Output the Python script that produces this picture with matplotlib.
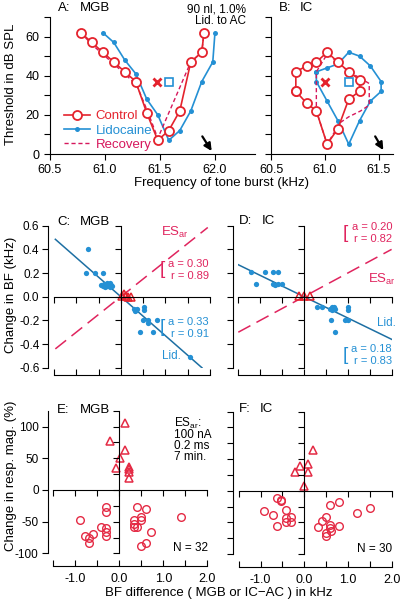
import numpy as np
import matplotlib
matplotlib.use('Agg')
import matplotlib.pyplot as plt
from matplotlib.ticker import MultipleLocator, FuncFormatter

plt.rcParams['font.family'] = ['Liberation Sans', 'DejaVu Sans']
plt.rcParams['axes.unicode_minus'] = False
plt.rcParams['mathtext.default'] = 'regular'
plt.rcParams['font.size'] = 8.5

# ---- A: MGB tuning curves (kHz, dB SPL)
ctrl_a_freq = [60.78, 60.88, 60.98, 61.08, 61.18, 61.28, 61.38, 61.48, 61.58, 61.68, 61.78, 61.88, 61.90]
ctrl_a_thr = [62, 57, 52, 47, 42, 37, 21, 7, 12, 22, 47, 52, 62]
lid_a_freq = [60.98, 61.08, 61.18, 61.28, 61.38, 61.48, 61.58, 61.68, 61.78, 61.88, 61.98, 62.00]
lid_a_thr = [62, 57, 48, 41, 28, 20, 7, 12, 22, 37, 47, 62]
rec_a_freq = [60.78, 60.88, 60.98, 61.08, 61.18, 61.29, 61.40, 61.48, 61.78, 61.88, 61.90]
rec_a_thr = [62, 56, 51, 46, 41, 35, 20, 8, 47, 52, 62]
bf_a_freq = [61.47, 61.58]      # control BF (x), lidocaine BF (square)
bf_a_thr = 37
ac_bf_a = 61.97

# ---- B: IC tuning curves
ctrl_b_freq = [60.73, 60.73, 60.83, 60.92, 61.02, 61.12, 61.22, 61.32, 61.32, 61.22, 61.12, 61.02, 60.92, 60.83, 60.73]
ctrl_b_thr = [32, 42, 45, 47, 52, 47, 42, 38, 32, 28, 13, 5, 22, 26, 32]
lid_b_freq = [60.92, 61.02, 61.12, 61.22, 61.32, 61.42, 61.52, 61.52, 61.42, 61.32, 61.22, 61.12, 61.02, 60.92, 60.92]
lid_b_thr = [42, 44, 46, 52, 50, 45, 37, 32, 27, 17, 5, 17, 27, 37, 42]
rec_b_freq = [61.32, 61.41, 61.41, 61.33, 61.22, 61.14, 61.02, 60.92, 60.92, 60.92, 61.02, 61.12, 61.22, 61.32]
rec_b_thr = [39, 36, 25, 22, 19, 16, 5, 22, 32, 42, 51, 47, 42, 39]
bf_b_freq = [61.00, 61.22]
bf_b_thr = 37
ac_bf_b = 61.54

# ---- C: MGB, change in BF vs BF difference
c_lid_x = [-0.73, -0.78, -0.58, -0.39, -0.45, -0.40, -0.38, -0.35, -0.33, -0.30, -0.28, -0.25,
           -0.22, -0.20, -0.30, -0.25, 0.30, 0.34, 0.32, 0.36, 0.51, 0.51, 0.49, 0.62, 0.62,
           0.81, 0.42, 0.72, 1.55]
c_lid_y = [0.40, 0.20, 0.20, 0.20, 0.10, 0.09, 0.11, 0.08, 0.10, 0.09, 0.11, 0.08,
           0.10, 0.09, 0.12, 0.12, -0.10, -0.11, -0.12, -0.10, -0.085, -0.11, -0.20, -0.20, -0.22,
           -0.20, -0.30, -0.30, -0.51]
c_es_x = [0.02, 0.08, 0.12, 0.17, 0.22]
c_es_y = [0.01, 0.02, 0.005, 0.0, 0.0]
c_lid_a, c_lid_r = 0.33, 0.91
c_es_a, c_es_r = 0.30, 0.89

# ---- D: IC
d_lid_x = [-1.20, -1.10, -0.90, -0.71, -0.59, -0.71, -0.67, -0.59, -0.50, 0.30, 0.40, 0.63,
           0.60, 0.68, 0.63, 0.70, 1.00, 1.00, 0.61, 0.93, 1.00, 0.70]
d_lid_y = [0.21, 0.11, 0.21, 0.21, 0.21, 0.11, 0.10, 0.11, 0.11, -0.09, -0.09, -0.085,
           -0.10, -0.09, -0.11, -0.10, -0.09, -0.11, -0.20, -0.20, -0.20, -0.30]
d_es_x = [-0.12, 0.0, 0.13]
d_es_y = [0.01, 0.01, 0.01]
d_lid_a, d_lid_r = 0.18, 0.83
d_es_a, d_es_r = 0.20, 0.82

# ---- E: MGB, change in response magnitude
e_tri_x = [0.12, -0.20, 0.12, 0.02, -0.08, 0.22, 0.22, 0.22, 0.22]
e_tri_y = [106, 78, 63, 51, 34, 37, 33, 28, 19]
e_circ_x = [-0.30, -0.30, -0.89, -0.41, -0.30, -0.30, -0.30, -0.79, -0.60, -0.69, -0.69, 0.41,
            0.60, 0.33, 0.33, 0.33, 0.41, 0.50, 0.50, 0.71, 0.50, 0.60, 1.41]
e_circ_y = [-27, -34, -48, -58, -60, -66, -73, -72, -69, -75, -83, -27,
            -30, -47, -53, -58, -58, -42, -48, -67, -88, -83, -42]

# ---- F: IC
f_tri_x = [0.19, -0.11, 0.08, 0.09, -0.21, 0.0]
f_tri_y = [64, 39, 42, 30, 30, 8]
f_circ_x = [-0.63, -0.53, -0.53, -0.91, -0.72, -0.42, -0.42, -0.42, -0.30, -0.30, -0.63, 0.59,
            0.79, 1.20, 1.50, 0.49, 0.40, 0.31, 0.59, 0.59, 0.79, 0.49, 0.49, 0.60]
f_circ_y = [-12, -14, -17, -32, -38, -30, -43, -49, -41, -50, -55, -23,
            -18, -35, -27, -42, -48, -58, -54, -59, -55, -66, -71, -63]

RED = '#e4232d'
BLUE = '#2490d4'
REC = '#d6175c'
ESRED = '#e0245e'
REGBLUE = '#1d6fa3'
PINK = '#e42a44'

W, H = 400, 606
fig = plt.figure(figsize=(W / 100, H / 100), dpi=100)


def box(l, t, r, b):
    return fig.add_axes([l / W, 1 - b / H, (r - l) / W, (b - t) / H])


def ftext(x, y, s, **kw):
    kw.setdefault('va', 'center')
    return fig.text(x / W, 1 - y / H, s, **kw)


def style_tuning(ax, xlim, ylabels):
    ax.set_xlim(*xlim)
    ax.set_ylim(0, 70)
    for s in ['top', 'right']:
        ax.spines[s].set_visible(False)
    for s in ['left', 'bottom']:
        ax.spines[s].set_linewidth(0.8)
    ax.xaxis.set_major_locator(MultipleLocator(0.5))
    ax.xaxis.set_major_formatter(FuncFormatter(lambda v, p: f'{v:.1f}'))
    ax.yaxis.set_major_locator(MultipleLocator(20 if ylabels else 10))
    ax.yaxis.set_minor_locator(MultipleLocator(10))
    ax.tick_params(which='both', direction='out', length=4, width=0.8, labelsize=9)
    ax.tick_params(axis='y', labelleft=ylabels)


def style_cross(ax, ylim, step_left, ylabels, step_zero, xlabels, bottom_out):
    ax.set_xlim(-1.5, 2.0)
    ax.set_ylim(*ylim)
    ax.spines['right'].set_visible(False)
    ax.spines['top'].set_position(('data', 0))
    ax.spines['left'].set_position(('outward', 4))
    ax.spines['bottom'].set_position(('outward', bottom_out))
    for s in ['left', 'bottom', 'top']:
        ax.spines[s].set_linewidth(0.8)
    ax.yaxis.set_major_locator(MultipleLocator(step_left))
    ax.yaxis.set_major_formatter(FuncFormatter(lambda v, p: f'{v:.1f}' if step_left < 1 else f'{v:.0f}'))
    ax.tick_params(axis='y', direction='out', length=4, width=0.8, labelsize=8.5, pad=2.5,
                   labelleft=ylabels)
    ax.xaxis.set_ticks_position('both')
    ax.xaxis.set_major_locator(MultipleLocator(0.5))
    ax.xaxis.set_major_formatter(FuncFormatter(
        lambda v, p: f'{v:.1f}' if xlabels and abs(v - round(v)) < 1e-6 else ''))
    ax.tick_params(axis='x', direction='in', length=4, width=0.8, labelsize=9,
                   labeltop=False, labelbottom=xlabels, pad=5)
    ax2 = ax.twinx()
    ax2.set_ylim(*ylim)
    for s in ['left', 'top', 'bottom']:
        ax2.spines[s].set_visible(False)
    ax2.spines['right'].set_position(('data', 0))
    ax2.spines['right'].set_linewidth(0.8)
    ax2.yaxis.set_major_locator(MultipleLocator(step_zero))
    ax2.tick_params(axis='y', direction='in', length=4, width=0.8, labelright=False)


# ---------------- A
axA = box(50, 17, 255, 154)
style_tuning(axA, (60.5, 62.364), True)
hl, = axA.plot(lid_a_freq, lid_a_thr, '-o', color=BLUE, ms=3.6, mew=0, lw=1.2, label='Lidocaine')
hr, = axA.plot(rec_a_freq, rec_a_thr, color=REC, lw=1.0, dashes=(3, 2), label='Recovery')
hc, = axA.plot(ctrl_a_freq, ctrl_a_thr, '-o', color=RED, mfc='white', mec=RED, ms=6.5, mew=1.3,
               lw=1.2, label='Control')
axA.plot(bf_a_freq[0], bf_a_thr, 'x', color=RED, ms=6, mew=2)
axA.plot(bf_a_freq[1], bf_a_thr, 's', mfc='none', mec=BLUE, ms=6, mew=1.2)
axA.annotate('', xy=(ac_bf_a, 1.5), xytext=(ac_bf_a - 0.085, 9),
             arrowprops=dict(arrowstyle='-|>', color='black', lw=1.6, mutation_scale=11,
                             shrinkA=0, shrinkB=0))
axA.legend(handles=[hc, hl, hr], loc='lower left', bbox_to_anchor=(0.03, -0.035), frameon=False,
           fontsize=9.5, handlelength=2.0, handletextpad=0.4, labelspacing=0.15,
           borderaxespad=0.2, labelcolor='linecolor')

# ---------------- B
axB = box(271, 17, 393, 154)
style_tuning(axB, (60.5, 61.63), False)
axB.plot(lid_b_freq, lid_b_thr, '-o', color=BLUE, ms=3.6, mew=0, lw=1.2)
axB.plot(rec_b_freq, rec_b_thr, color=REC, lw=1.0, dashes=(3, 2))
axB.plot(ctrl_b_freq, ctrl_b_thr, '-o', color=RED, mfc='white', mec=RED, ms=6.5, mew=1.3, lw=1.2)
axB.plot(bf_b_freq[0], bf_b_thr, 'x', color=RED, ms=6, mew=2)
axB.plot(bf_b_freq[1], bf_b_thr, 's', mfc='none', mec=BLUE, ms=6, mew=1.2)
axB.annotate('', xy=(ac_bf_b, 2), xytext=(ac_bf_b - 0.075, 9),
             arrowprops=dict(arrowstyle='-|>', color='black', lw=1.6, mutation_scale=11,
                             shrinkA=0, shrinkB=0))

# ---------------- C
axC = box(54, 225.7, 210, 367.7)
style_cross(axC, (-0.6, 0.6), 0.2, True, 0.2, False, 5)
axC.plot([-1.47, 1.82], [1.47 * c_lid_a, -1.82 * c_lid_a], color=REGBLUE, lw=1.1)
axC.plot([-1.47, 1.95], [-1.47 * c_es_a, 1.95 * c_es_a], color=ESRED, lw=1.1, dashes=(9, 4.5))
axC.plot(c_lid_x, c_lid_y, 'o', color=BLUE, ms=3.8, mew=0)
axC.plot(c_es_x, c_es_y, '^', mfc='none', mec=RED, ms=5.5, mew=1.1)

# ---------------- D
axD = box(238.3, 225.7, 391.6, 367.7)
style_cross(axD, (-0.6, 0.6), 0.2, False, 0.2, False, 5)
axD.plot([-1.5, 2.0], [1.5 * d_lid_a, -2.0 * d_lid_a], color=REGBLUE, lw=1.1)
axD.plot([-1.5, 2.0], [-1.5 * d_es_a, 2.0 * d_es_a], color=ESRED, lw=1.1, dashes=(9, 4.5))
axD.plot(d_lid_x, d_lid_y, 'o', color=BLUE, ms=3.8, mew=0)
axD.plot(d_es_x, d_es_y, '^', mfc='none', mec=RED, ms=5.5, mew=1.1)

# ---------------- E
axE = box(53.3, 410.7, 207.3, 553.4)
style_cross(axE, (-100, 125), 50, True, 25, True, 9)
axE.plot(e_tri_x, e_tri_y, '^', mfc='none', mec=PINK, ms=5.5, mew=1.1)
axE.plot(e_circ_x, e_circ_y, 'o', mfc='none', mec=PINK, ms=5.5, mew=1.0)

# ---------------- F
axF = box(238.6, 411.5, 392, 554.1)
style_cross(axF, (-100, 125), 25, False, 25, True, 9)
axF.plot(f_tri_x, f_tri_y, '^', mfc='none', mec=PINK, ms=5.5, mew=1.1)
axF.plot(f_circ_x, f_circ_y, 'o', mfc='none', mec=PINK, ms=5.5, mew=1.0)

# ---------------- texts
fs = 9.5
for x1, x2, y, a, b in [(58, 80, 8, 'A:', 'MGB'), (279, 300, 8, 'B:', 'IC'),
                        (57, 80, 222, 'C:', 'MGB'), (239, 262, 221, 'D:', 'IC'),
                        (57, 80, 410, 'E:', 'MGB'), (239, 260, 409, 'F:', 'IC')]:
    ftext(x1, y, a, fontsize=fs)
    ftext(x2, y, b, fontsize=fs)

ftext(246, 10, '90 nl, 1.0%', ha='right', fontsize=8.5)
ftext(246, 21, 'Lid. to AC', ha='right', fontsize=8.5)

ftext(11, 84, 'Threshold in dB SPL', rotation=90, ha='center', fontsize=9.5)
ftext(11, 295, 'Change in BF (kHz)', rotation=90, ha='center', fontsize=9.5)
ftext(11, 476, 'Change in resp. mag. (%)', rotation=90, ha='center', fontsize=9.5)
ftext(221, 183, 'Frequency of tone burst (kHz)', ha='center', fontsize=9.5)
ftext(219, 593, 'BF difference ( MGB or IC\u2212AC ) in kHz', ha='center', fontsize=9.5)


def fit_label(xr, ybr, col, a, r):
    ftext(xr, ybr - 6, f'a = {a:.2f}', ha='right', color=col, fontsize=8)
    ftext(xr, ybr + 6, f'r = {r:.2f}', ha='right', color=col, fontsize=8)
    ftext(xr - 49, ybr, '[', ha='left', color=col, fontsize=13.5)


fit_label(209, 270, ESRED, c_es_a, c_es_r)
fit_label(209, 328, BLUE, c_lid_a, c_lid_r)
fit_label(392, 233, ESRED, d_es_a, d_es_r)
fit_label(392, 355, BLUE, d_lid_a, d_lid_r)
ftext(161, 232, 'ES$_{ar}$', color=ESRED, fontsize=9.5)
ftext(368, 279, 'ES$_{ar}$', color=ESRED, fontsize=9.5)
ftext(162, 356, 'Lid.', color=BLUE, fontsize=8.5)
ftext(377, 323, 'Lid.', color=BLUE, fontsize=8.5)

for y, s in [(423, 'ES$_{ar}$:'), (435, '100 nA'), (446, '0.2 ms'), (457, '7 min.')]:
    ftext(174, y, s, fontsize=8.5)
ftext(208, 548, 'N = 32', ha='right', fontsize=8.5)
ftext(392, 549, 'N = 30', ha='right', fontsize=8.5)

fig.savefig('out.png', dpi=100)
